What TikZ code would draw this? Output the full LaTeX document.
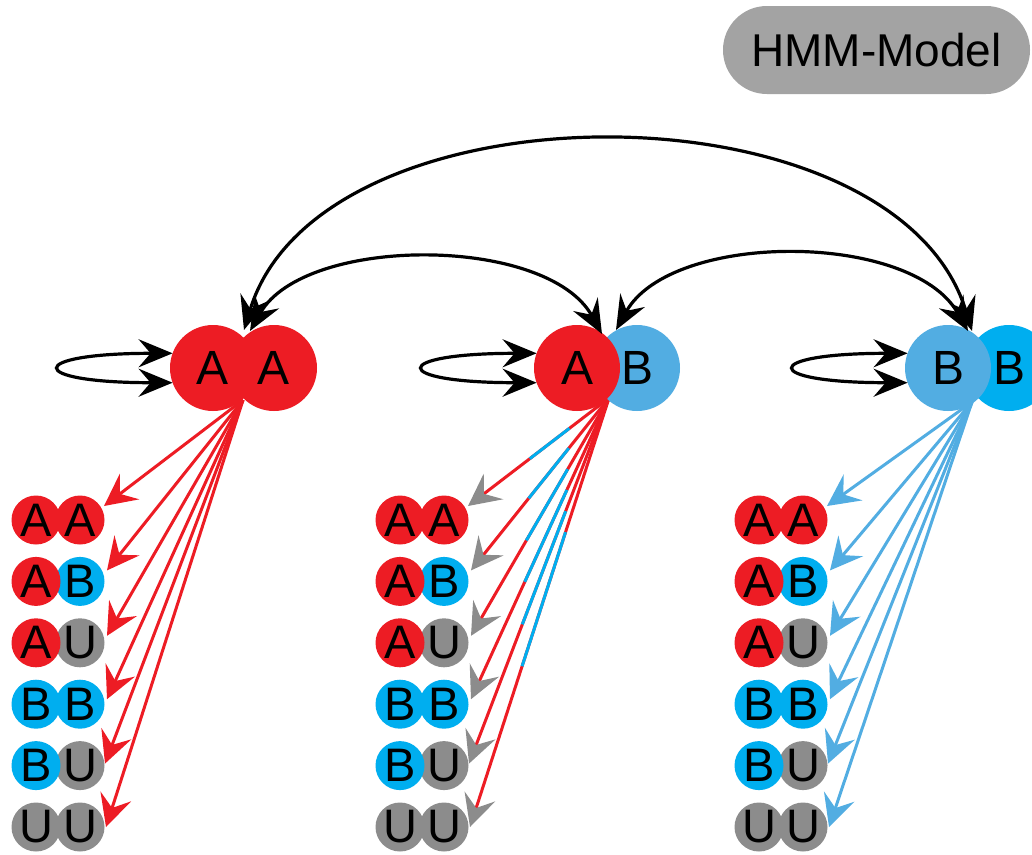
\documentclass[tikz,border=0pt]{standalone}
\usepackage{fontspec}
\setmainfont{Liberation Sans}
\usetikzlibrary{arrows.meta,calc,backgrounds}

\definecolor{hred}{HTML}{ED1C24}
\definecolor{hcyan}{HTML}{00AEEF}
\definecolor{hsky}{HTML}{52ADE2}
\definecolor{hgrey}{HTML}{8C8C8C}
\definecolor{hbox}{HTML}{A3A3A3}

\tikzset{
  bigstate/.style={circle, inner sep=0pt, outer sep=0pt, minimum size=86pt,
    font=\fontsize{48}{48}\selectfont},
  pairdot/.style={circle, inner sep=0pt, outer sep=0pt, minimum size=49pt,
    font=\fontsize{47}{47}\selectfont},
  trans/.style={draw=black, line width=3.2pt,
    {Stealth[length=34pt,width=28pt,inset=12pt]}-{Stealth[length=34pt,width=28pt,inset=12pt]}},
  emitL/.style={draw=hred, line width=3pt,
    -{Stealth[length=32pt,width=32pt,inset=12pt]}},
  emitR/.style={draw=hsky, line width=3pt,
    -{Stealth[length=32pt,width=32pt,inset=12pt]}},
  emitM/.style={draw=hred, line width=3pt,
    -{Stealth[length=32pt,width=32pt,inset=12pt,color=hgrey]}},
  emitMseg/.style={draw=hcyan, line width=3pt},
  label/.style={fill=hbox, rounded corners=43.9pt, minimum width=307pt,
    minimum height=88pt, inner sep=0pt, font=\fontsize{46}{46}\selectfont}
}

\begin{document}
\begin{tikzpicture}[x=1pt,y=-1pt]
  \useasboundingbox (0,0) rectangle (1032,854);

  % title pill
  \node[label] (title) at (876.5,50) {HMM-Model};

  % hidden states (left circle drawn last, on top)
  \node[bigstate, fill=hred]  (L2) at (274,368) {A};
  \node[bigstate, fill=hred]  (L1) at (213,368) {A};
  \node[bigstate, fill=hsky]  (M2) at (637,368) {B};
  \node[bigstate, fill=hred]  (M1) at (577,368) {A};
  \node[bigstate, fill=hcyan] (R2) at (1009,368) {B};
  \node[bigstate, fill=hsky]  (R1) at (948,368) {B};

  % emission sources at the lower junction of each state
  \coordinate (Lo) at (243,400);
  \coordinate (Mo) at (609,398);
  \coordinate (Ro) at (972,402);

  % observation pairs with the arrow landing point next to each
  \foreach \k/\a/\b/\ca/\cb/\dx/\dy [count=\i from 0] in
     {AA/A/A/hred/hred/24/-14, AB/A/B/hred/hcyan/27/-11,
      AU/A/U/hred/hgrey/27/-7, BB/B/B/hcyan/hcyan/27/-5,
      BU/B/U/hcyan/hgrey/25/-2, UU/U/U/hgrey/hgrey/26/0} {
    \pgfmathsetmacro\yy{520+61.4*\i}
    \foreach \c/\xx in {L/36, M/400, R/759} {
      \node[pairdot, fill=\cb] (\c\k r) at (\xx+44,\yy) {\b};
      \node[pairdot, fill=\ca] (\c\k l) at (\xx,\yy) {\a};
      \coordinate (\c\k t) at ($(\c\k r)+(\dx,\dy)$);
    }
  }

  % white page and emission arrows, under the state circles
  \begin{scope}[on background layer]
    \fill[white] (0,0) rectangle (1032,854);
    \foreach \k in {AA,AB,AU,BB,BU,UU} {
      \draw[emitL] (Lo) -- (L\k t);
      \draw[emitR] (Ro) -- (R\k t);
      \coordinate (M\k b) at ($(M\k t)!28pt!(Mo)$);
      \draw[emitM] (Mo) -- (M\k t);
      \draw[emitMseg] ($(Mo)!0.3333!(M\k b)$) -- ($(Mo)!0.6667!(M\k b)$);
    }
  \end{scope}

  % arrow ends at the tops of the states
  \coordinate (Lta) at ($(L1)!0.5!(L2)+(0.5,-38)$);
  \coordinate (Ltb) at ($(L1)!0.5!(L2)+(6.5,-37)$);
  \coordinate (Mta) at ($(M1)!0.5!(M2)+(-5,-34)$);
  \coordinate (Mtb) at ($(M1)!0.5!(M2)+(9,-38)$);
  \coordinate (Rta) at ($(R1)!0.5!(R2)+(-10.5,-37)$);
  \coordinate (Rtb) at ($(R1)!0.5!(R2)+(-6.5,-37)$);

  % transitions between states
  \draw[trans] (Lta) .. controls (320,79) and (895,79) .. (Rtb);
  \draw[trans] (Ltb) .. controls (305,235) and (547,235) .. (Mta);
  \draw[trans] (Mtb) .. controls (671,231) and (911,231) .. (Rta);

  % self transitions
  \draw[trans] (L1.160) .. controls ($(L1.160)+(-148,0)$) and ($(L1.200)+(-148,0)$) .. (L1.200);
  \draw[trans] (M1.160) .. controls ($(M1.160)+(-148,0)$) and ($(M1.200)+(-148,0)$) .. (M1.200);
  \draw[trans] (R1.160) .. controls ($(R1.160)+(-148,0)$) and ($(R1.200)+(-148,0)$) .. (R1.200);
\end{tikzpicture}
\end{document}
